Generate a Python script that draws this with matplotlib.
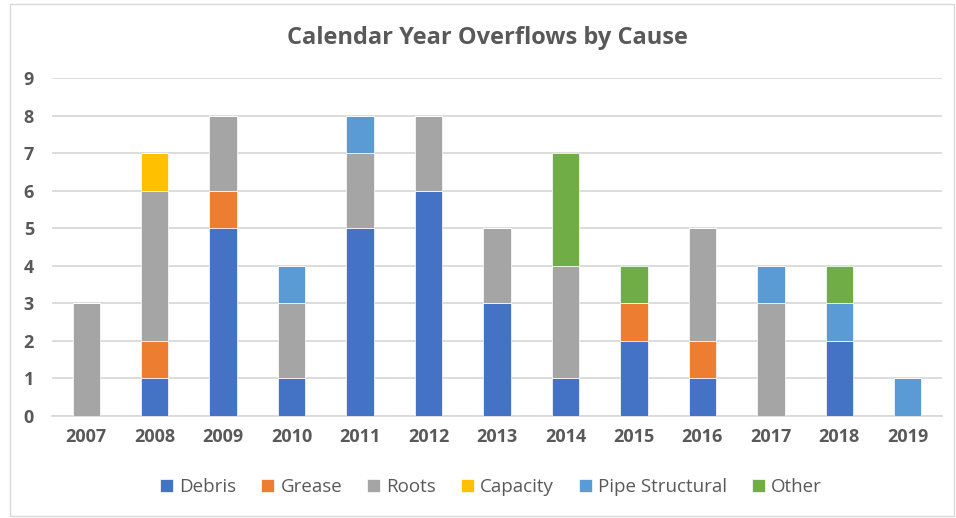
import matplotlib.pyplot as plt
from matplotlib.patches import Rectangle
import numpy as np

years = ["2007", "2008", "2009", "2010", "2011", "2012", "2013",
         "2014", "2015", "2016", "2017", "2018", "2019"]
causes = ["Debris", "Grease", "Roots", "Capacity", "Pipe Structural", "Other"]
debris = [0, 1, 5, 1, 5, 6, 3, 1, 2, 1, 0, 2, 0]
grease = [0, 1, 1, 0, 0, 0, 0, 0, 1, 1, 0, 0, 0]
roots = [3, 4, 2, 2, 2, 2, 2, 3, 0, 3, 3, 0, 0]
capacity = [0, 1, 0, 0, 0, 0, 0, 0, 0, 0, 0, 0, 0]
pipe_structural = [0, 0, 0, 1, 1, 0, 0, 0, 0, 0, 1, 1, 1]
other = [0, 0, 0, 0, 0, 0, 0, 3, 1, 0, 0, 1, 0]

series = [debris, grease, roots, capacity, pipe_structural, other]
colors = ["#4472C4", "#ED7D31", "#A5A5A5", "#FFC000", "#5B9BD5", "#70AD47"]

plt.rcParams["font.family"] = ["Open Sans", "DejaVu Sans"]
text_color = "#595959"

fig = plt.figure(figsize=(9.56, 5.18), dpi=100)
ax = fig.add_axes([52 / 956, 1 - 416 / 518, 890 / 956, 338 / 518])

# chart frame
fig.patches.append(Rectangle((10 / 956, 2 / 518), 944 / 956, 512 / 518,
                             transform=fig.transFigure, fill=False,
                             edgecolor="#D9D9D9", linewidth=1.0))

x = np.arange(len(years))
bottom = np.zeros(len(years))
for name, vals, col in zip(causes, series, colors):
    vals = np.array(vals, dtype=float)
    ax.bar(x, vals, width=0.4, bottom=bottom, color=col, label=name,
           edgecolor="white", linewidth=0.5, zorder=3)
    bottom += vals

ax.set_xlim(-0.5, len(years) - 0.5)
ax.set_ylim(0, 9)
ax.set_yticks(range(0, 10))
ax.set_xticks(x)
ax.set_xticklabels(years)
ax.yaxis.grid(True, color="#D9D9D9", linewidth=1.3, zorder=0)
ax.set_axisbelow(True)
for s in ["top", "right", "left"]:
    ax.spines[s].set_visible(False)
ax.spines["bottom"].set_color("#D9D9D9")
ax.spines["bottom"].set_linewidth(1.3)
ax.tick_params(axis="both", length=0, labelsize=13, labelcolor=text_color)
ax.tick_params(axis="x", pad=9)
ax.tick_params(axis="y", pad=13)
for lbl in ax.get_xticklabels() + ax.get_yticklabels():
    lbl.set_fontweight("bold")

fig.text(487 / 956, 1 - 38 / 518, "Calendar Year Overflows by Cause",
         ha="center", va="center", fontsize=17, fontweight="bold",
         color=text_color)

fig.legend(loc="center", bbox_to_anchor=(491 / 956, 1 - 487 / 518), ncol=6,
           frameon=False, fontsize=13.5, handlelength=0.7, handleheight=0.7,
           handletextpad=0.35, columnspacing=1.3, labelcolor=text_color)

fig.savefig("out.png", dpi=100)
